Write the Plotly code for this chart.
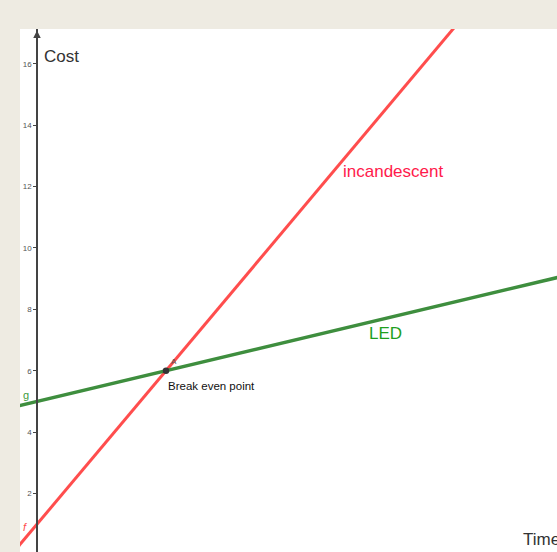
import plotly.graph_objects as go

# Data
time = [-1, 5, 21]
cost_led = [4.8, 6, 9.2]
cost_incandescent = [0, 6, 22]
break_even = (5, 6)
y_ticks = [2, 4, 6, 8, 10, 12, 14, 16]

W, H = 557, 552
ML, MT = 20, 29
x_range = [-0.66, 20.16]
y_range = [0.094, 17.13]

RED = "#ff4d4d"
GREEN = "#3e8e3e"
RED_TXT = "#ff1a4b"
GREEN_TXT = "#1fa01f"
FONT = "Liberation Sans, Arial, sans-serif"

fig = go.Figure()
fig.add_trace(go.Scatter(x=time, y=cost_incandescent, mode="lines",
                         line=dict(color=RED, width=3), hoverinfo="skip"))
fig.add_trace(go.Scatter(x=time, y=cost_led, mode="lines",
                         line=dict(color=GREEN, width=3.5), hoverinfo="skip"))
fig.add_trace(go.Scatter(x=[break_even[0]], y=[break_even[1]], mode="markers",
                         marker=dict(color="#333333", size=6.5), hoverinfo="skip"))

x0_frac = (0 - x_range[0]) / (x_range[1] - x_range[0])

fig.update_layout(
    width=W, height=H,
    margin=dict(l=ML, r=0, t=MT, b=0),
    paper_bgcolor="#eeebe2",
    plot_bgcolor="white",
    showlegend=False,
    font=dict(family=FONT),
    xaxis=dict(range=x_range, visible=False, fixedrange=True),
    yaxis=dict(range=y_range, anchor="free", position=x0_frac,
               showgrid=False, zeroline=False, showline=True,
               linecolor="#444444", linewidth=1.5,
               ticks="outside", ticklen=3, tickcolor="#444444",
               tickvals=y_ticks, ticktext=[str(v) for v in y_ticks],
               tickfont=dict(size=8, color="#555555", family=FONT),
               fixedrange=True),
)

# arrow at top of y axis
fig.add_annotation(x=0, y=y_range[1] - 0.05, ax=0, ay=y_range[1] - 0.5,
                   xref="x", yref="y", axref="x", ayref="y",
                   showarrow=True, arrowhead=2, arrowsize=1, arrowwidth=1.5,
                   arrowcolor="#444444", text="")

def label(x, y, text, color, size, xanchor="left", yanchor="middle"):
    fig.add_annotation(x=x, y=y, text=text, showarrow=False, xanchor=xanchor,
                       yanchor=yanchor, font=dict(color=color, size=size, family=FONT))

label(0.2, 16.25, "Cost", "#333333", 17)
label(18.75, 0.49, "Time", "#333333", 17)
label(11.8, 12.5, "incandescent", RED_TXT, 17)
label(12.8, 7.22, "LED", GREEN_TXT, 17)
label(5.0, 5.5, "Break even point", "#111111", 11.5)
label(5.12, 6.3, "A", "#555555", 8)
label(-0.62, 0.92, "<i>f</i>", RED, 11)
label(-0.64, 5.2, "g", "#3e9a3e", 11)

fig.write_html("out.html", config={"displayModeBar": False},
               post_script="document.body.style.margin='0';document.body.style.overflow='hidden';document.body.style.background='#eeebe2';")
